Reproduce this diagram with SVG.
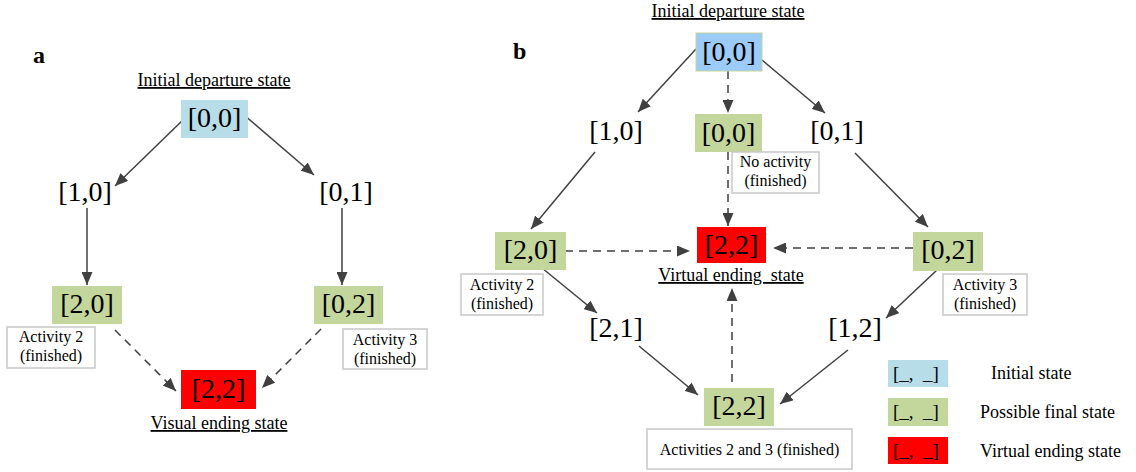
<svg xmlns="http://www.w3.org/2000/svg" width="1136" height="472" viewBox="0 0 1136 472">
<style>
text{font-family:"Liberation Serif","Times New Roman",serif;fill:#000}
.st{font-size:28px;text-anchor:middle}
.lb{font-size:16px;text-anchor:middle}
.ul{font-size:18px;text-anchor:middle;text-decoration:underline}
.pl{font-size:24px;font-weight:bold}
.lg{font-size:18px}
.lgk{font-size:19px;text-anchor:middle}
.blueA{fill:#b7dde8}
.blueB{fill:#9ccbf7;stroke:#c3d69b;stroke-width:1}
.green{fill:#c3d69b}
.red{fill:#ff0000}
.note{fill:#fff;stroke:#c8c8c8;stroke-width:1.5}
.c{fill:none;stroke:#404040;stroke-width:1.5;marker-end:url(#ah)}
.d{stroke-dasharray:8,6}
</style>
<defs>
<marker id="ah" markerUnits="userSpaceOnUse" markerWidth="13" markerHeight="11" refX="13" refY="5.5" orient="auto">
<path d="M0,0 L13,5.5 L0,11 z" fill="#404040"/>
</marker>
</defs>

<g id="connectors">
<line class="c" x1="186" y1="117" x2="115" y2="186"/>
<line class="c" x1="244" y1="115" x2="314" y2="175"/>
<line class="c" x1="87" y1="208" x2="87" y2="285"/>
<line class="c" x1="342" y1="208" x2="342" y2="285"/>
<line class="c d" x1="115" y1="330" x2="176" y2="391"/>
<line class="c d" x1="321" y1="329" x2="262" y2="388"/>

<line class="c" x1="696" y1="49" x2="638" y2="112"/>
<line class="c" x1="762" y1="60" x2="825" y2="113"/>
<line class="c d" x1="728" y1="71" x2="728" y2="113"/>
<line class="c d" x1="728" y1="152" x2="728" y2="226"/>
<line class="c" x1="595" y1="152" x2="531" y2="229"/>
<line class="c" x1="855" y1="153" x2="928" y2="227"/>
<line class="c d" x1="565" y1="251" x2="690" y2="251"/>
<line class="c d" x1="913" y1="248" x2="773" y2="248"/>
<line class="c" x1="542" y1="268" x2="597" y2="313"/>
<line class="c" x1="937" y1="270" x2="886" y2="318"/>
<line class="c" x1="639" y1="346" x2="698" y2="395"/>
<line class="c" x1="848" y1="350" x2="780" y2="404"/>
<line class="c d" x1="732" y1="382" x2="732" y2="288"/>
</g>

<!-- Panel a -->
<g id="a-label"><text class="pl" x="33" y="63">a</text></g>
<g id="a-init-label"><text class="ul" x="214" y="86">Initial departure state</text></g>
<g id="a-00"><rect class="blueA" x="181" y="100" width="67" height="38"/><text class="st" x="214.5" y="127">[0,0]</text></g>
<g id="a-10"><text class="st" x="85" y="201">[1,0]</text></g>
<g id="a-01"><text class="st" x="346" y="201">[0,1]</text></g>
<g id="a-20"><rect class="green" x="52" y="286" width="70" height="38"/><text class="st" x="87" y="313">[2,0]</text></g>
<g id="a-02"><rect class="green" x="314" y="286" width="69" height="38"/><text class="st" x="348.5" y="313">[0,2]</text></g>
<g id="a-act2"><rect class="note" x="7" y="327" width="88" height="41"/><text class="lb" x="51" y="342">Activity 2</text><text class="lb" x="51" y="361">(finished)</text></g>
<g id="a-act3"><rect class="note" x="343" y="329" width="84" height="40"/><text class="lb" x="385" y="345">Activity 3</text><text class="lb" x="385" y="364">(finished)</text></g>
<g id="a-22"><rect class="red" x="181" y="370" width="75" height="39"/><text class="st" x="218.5" y="398">[2,2]</text></g>
<g id="a-end-label"><text class="ul" x="219" y="429">Visual ending state</text></g>

<!-- Panel b -->
<g id="b-label"><text class="pl" x="513" y="59">b</text></g>
<g id="b-init-label"><text class="ul" x="728" y="17">Initial departure state</text></g>
<g id="b-00"><rect class="blueB" x="696" y="33" width="66" height="38"/><text class="st" x="729" y="61">[0,0]</text></g>
<g id="b-10"><text class="st" x="616" y="140">[1,0]</text></g>
<g id="b-00f"><rect class="green" x="695" y="114" width="67" height="38"/><text class="st" x="728.5" y="142">[0,0]</text></g>
<g id="b-01"><text class="st" x="837" y="140">[0,1]</text></g>
<g id="b-noact"><rect class="note" x="732" y="152" width="87" height="41"/><text class="lb" x="775.5" y="167">No activity</text><text class="lb" x="775.5" y="186">(finished)</text></g>
<g id="b-22v"><rect class="red" x="697" y="227" width="69" height="36"/><text class="st" x="731.5" y="254">[2,2]</text></g>
<g id="b-end-label"><text class="ul" x="731" y="281" xml:space="preserve">Virtual ending  state</text></g>
<g id="b-20"><rect class="green" x="495" y="232" width="71" height="38"/><text class="st" x="530.5" y="259">[2,0]</text></g>
<g id="b-act2"><rect class="note" x="461" y="274" width="82" height="41"/><text class="lb" x="502" y="290">Activity 2</text><text class="lb" x="502" y="309">(finished)</text></g>
<g id="b-02"><rect class="green" x="913" y="232" width="70" height="39"/><text class="st" x="948" y="259">[0,2]</text></g>
<g id="b-act3"><rect class="note" x="943" y="274" width="84" height="41"/><text class="lb" x="985" y="290">Activity 3</text><text class="lb" x="985" y="309">(finished)</text></g>
<g id="b-21"><text class="st" x="616" y="337">[2,1]</text></g>
<g id="b-12"><text class="st" x="855" y="337">[1,2]</text></g>
<g id="b-22"><rect class="green" x="704" y="388" width="70" height="38"/><text class="st" x="739" y="415">[2,2]</text></g>
<g id="b-act23"><rect class="note" x="647" y="429" width="205" height="40"/><text class="lb" x="749.5" y="455">Activities 2 and 3 (finished)</text></g>

<g id="legend">
<rect class="blueA" x="888" y="360" width="60" height="27"/><text class="lgk" x="916" y="380" xml:space="preserve">[_,  _]</text>
<text class="lg" x="991" y="379">Initial state</text>
<rect class="green" x="888" y="398" width="60" height="28"/><text class="lgk" x="916" y="418" xml:space="preserve">[_,  _]</text>
<text class="lg" x="980" y="418">Possible final state</text>
<rect class="red" x="888" y="437" width="60" height="27"/><text class="lgk" x="916" y="457" xml:space="preserve">[_,  _]</text>
<text class="lg" x="980" y="457">Virtual ending state</text>
</g>
</svg>
